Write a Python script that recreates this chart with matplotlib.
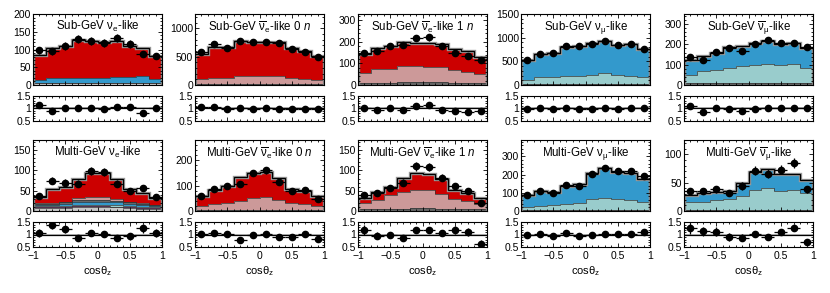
import numpy as np
import matplotlib
matplotlib.use("Agg")
import matplotlib.pyplot as plt
from matplotlib.ticker import AutoMinorLocator, MultipleLocator

plt.rcParams['font.family'] = ['Liberation Sans', 'DejaVu Sans']
plt.rcParams['mathtext.fontset'] = 'custom'
plt.rcParams['mathtext.rm'] = 'Liberation Sans'
plt.rcParams['mathtext.it'] = 'Liberation Sans:italic'
plt.rcParams['font.size'] = 7.5

edges = np.linspace(-1, 1, 11)
centers = 0.5 * (edges[:-1] + edges[1:])

RED = '#cc0000'
PINK = '#cc9999'
BLUE = '#3399cc'
TEAL = '#99cccc'
LGRAY = '#c8c8c8'
DGRAY = '#666666'
PURPLE = '#993399'

# ---- Sub-GeV nu_e-like
sg_nue_data = [98, 95, 110, 130, 125, 118, 133, 115, 87, 82]
sg_nue_mc = [85, 105, 110, 128, 123, 121, 125, 110, 105, 82]
sg_nue_gray = [5, 5, 5, 5, 5, 5, 5, 5, 5, 5]
sg_nue_teal = [2, 2, 2, 2, 2, 2, 2, 2, 2, 2]
sg_nue_blue = [6, 12, 13, 13, 13, 14, 16, 16, 17, 10]

# ---- Sub-GeV anti-nu_e-like 0n
sg_anue0_data = [576, 717, 647, 770, 753, 764, 735, 635, 588, 500]
sg_anue0_mc = [550, 670, 670, 770, 760, 750, 750, 650, 600, 510]
sg_anue0_gray = [15, 15, 15, 15, 15, 15, 15, 15, 15, 15]
sg_anue0_pink = [85, 115, 115, 135, 135, 135, 135, 105, 95, 75]

# ---- Sub-GeV anti-nu_e-like 1n
sg_anue1_data = [149, 158, 180, 188, 218, 221, 181, 151, 137, 115]
sg_anue1_mc = [146, 170, 180, 200, 196, 194, 190, 168, 160, 130]
sg_anue1_gray = [8, 10, 10, 14, 14, 13, 13, 11, 10, 8]
sg_anue1_pink = [50, 64, 64, 74, 74, 72, 72, 58, 52, 43]

# ---- Sub-GeV nu_mu-like
sg_numu_data = [521, 657, 671, 821, 814, 871, 929, 843, 864, 771]
sg_numu_mc = [530, 650, 680, 800, 820, 880, 920, 850, 860, 760]
sg_numu_gray = [30, 30, 30, 30, 30, 30, 30, 30, 30, 30]
sg_numu_teal = [77, 134, 140, 170, 170, 184, 213, 184, 163, 134]

# ---- Sub-GeV anti-nu_mu-like
sg_anumu_data = [138, 125, 163, 183, 170, 200, 220, 208, 208, 187]
sg_anumu_mc = [125, 145, 158, 185, 192, 205, 218, 202, 206, 182]
sg_anumu_gray = [8, 8, 8, 8, 8, 8, 8, 8, 8, 8]
sg_anumu_teal = [42, 62, 67, 75, 84, 89, 97, 89, 95, 75]

# ---- Multi-GeV nu_e-like
mg_nue_data = [37, 74, 70, 67, 98, 97, 67, 50, 56, 35]
mg_nue_mc = [35, 53, 58, 79, 93, 94, 79, 54, 45, 33]
mg_nue_lgray = [7, 7, 8, 10, 10, 10, 9, 8, 6, 5]
mg_nue_purple = [3, 3, 3, 2, 2, 2, 2, 2, 2, 2]
mg_nue_teal = [2, 2, 2, 3, 3, 3, 3, 2, 2, 2]
mg_nue_blue = [3, 4, 5, 8, 8, 8, 7, 6, 5, 3]
mg_nue_dgray = [2, 2, 3, 4, 5, 5, 4, 3, 3, 2]
mg_nue_pink = [2, 2, 2, 4, 7, 7, 5, 2, 1, 1]

# ---- Multi-GeV anti-nu_e-like 0n
mg_anue0_data = [61, 88, 100, 107, 151, 160, 116, 80, 81, 48]
mg_anue0_mc = [60, 83, 97, 135, 151, 155, 131, 88, 80, 58]
mg_anue0_gray = [4, 4, 4, 5, 5, 5, 5, 4, 4, 4]
mg_anue0_pink = [16, 24, 27, 36, 46, 50, 39, 29, 24, 16]

# ---- Multi-GeV anti-nu_e-like 1n
mg_anue1_data = [39, 45, 57, 70, 110, 109, 82, 61, 49, 20]
mg_anue1_mc = [33, 47, 58, 81, 94, 92, 78, 52, 45, 32]
mg_anue1_gray = [5, 5, 5, 6, 7, 7, 6, 5, 5, 4]
mg_anue1_pink = [15, 21, 34, 41, 45, 44, 37, 24, 20, 14]

# ---- Multi-GeV nu_mu-like
mg_numu_data = [88, 112, 98, 144, 140, 203, 236, 221, 217, 190]
mg_numu_mc = [90, 108, 105, 136, 150, 208, 235, 215, 210, 175]
mg_numu_gray = [3, 3, 3, 3, 3, 3, 3, 3, 3, 3]
mg_numu_teal = [21, 26, 30, 36, 43, 61, 67, 61, 58, 49]

# ---- Multi-GeV anti-nu_mu-like
mg_anumu_data = [35, 35, 38, 32, 44, 71, 66, 73, 84, 38]
mg_anumu_mc = [28, 31, 34, 36, 50, 69, 74, 66, 66, 55]
mg_anumu_gray = [1, 1, 1, 1, 1, 1, 1, 1, 1, 1]
mg_anumu_teal = [14, 15, 18, 21, 25, 36, 40, 35, 36, 30]

panels = [
    (r'Sub-GeV $\mathregular{\nu_e}$-like', sg_nue_data, sg_nue_mc,
     [(LGRAY, sg_nue_gray), (TEAL, sg_nue_teal), (BLUE, sg_nue_blue)], RED, 200, 50),
    (r'Sub-GeV $\mathregular{\overline{\nu}_e}$-like 0 $n$', sg_anue0_data, sg_anue0_mc,
     [(DGRAY, sg_anue0_gray), (PINK, sg_anue0_pink)], RED, 1250, 500),
    (r'Sub-GeV $\mathregular{\overline{\nu}_e}$-like 1 $n$', sg_anue1_data, sg_anue1_mc,
     [(DGRAY, sg_anue1_gray), (PINK, sg_anue1_pink)], RED, 330, 100),
    (r'Sub-GeV $\mathregular{\nu_\mu}$-like', sg_numu_data, sg_numu_mc,
     [(DGRAY, sg_numu_gray), (TEAL, sg_numu_teal)], BLUE, 1500, 500),
    (r'Sub-GeV $\mathregular{\overline{\nu}_\mu}$-like', sg_anumu_data, sg_anumu_mc,
     [(DGRAY, sg_anumu_gray), (TEAL, sg_anumu_teal)], BLUE, 350, 100),
    (r'Multi-GeV $\mathregular{\nu_e}$-like', mg_nue_data, mg_nue_mc,
     [(LGRAY, mg_nue_lgray), (PURPLE, mg_nue_purple), (TEAL, mg_nue_teal),
      (BLUE, mg_nue_blue), (DGRAY, mg_nue_dgray), (PINK, mg_nue_pink)], RED, 175, 50),
    (r'Multi-GeV $\mathregular{\overline{\nu}_e}$-like 0 $n$', mg_anue0_data, mg_anue0_mc,
     [(DGRAY, mg_anue0_gray), (PINK, mg_anue0_pink)], RED, 280, 100),
    (r'Multi-GeV $\mathregular{\overline{\nu}_e}$-like 1 $n$', mg_anue1_data, mg_anue1_mc,
     [(DGRAY, mg_anue1_gray), (PINK, mg_anue1_pink)], RED, 175, 50),
    (r'Multi-GeV $\mathregular{\nu_\mu}$-like', mg_numu_data, mg_numu_mc,
     [(DGRAY, mg_numu_gray), (TEAL, mg_numu_teal)], BLUE, 390, 100),
    (r'Multi-GeV $\mathregular{\overline{\nu}_\mu}$-like', mg_anumu_data, mg_anumu_mc,
     [(DGRAY, mg_anumu_gray), (TEAL, mg_anumu_teal)], BLUE, 125, 50),
]

W, H = 830, 293
fig = plt.figure(figsize=(W / 100, H / 100), dpi=100)
lefts = [33, 195, 358, 521, 684]
pw = 129
rows = [(14, 85, 96, 121), (140, 211, 222, 247)]


def style(ax):
    ax.tick_params(which='both', direction='in', top=True, right=True,
                   width=0.6, labelsize=7.5, pad=1.5)
    ax.tick_params(axis='x', pad=3)
    ax.tick_params(which='major', length=3)
    ax.tick_params(which='minor', length=1.5)
    for s in ax.spines.values():
        s.set_linewidth(0.8)
    ax.set_xlim(-1, 1)
    ax.xaxis.set_major_locator(MultipleLocator(0.5))
    ax.xaxis.set_minor_locator(MultipleLocator(0.1))


for i, (title, data, mc, layers, topcol, ymax, ymaj) in enumerate(panels):
    r, c = divmod(i, 5)
    t, b, rt, rb = rows[r]
    x0 = lefts[c] / W
    ax = fig.add_axes([x0, 1 - b / H, pw / W, (b - t) / H])
    axr = fig.add_axes([x0, 1 - rb / H, pw / W, (rb - rt) / H])

    data = np.array(data, float)
    mc = np.array(mc, float)
    base = np.zeros(10)
    for col, vals in layers:
        vals = np.array(vals, float)
        ax.stairs(base + vals, edges, baseline=base, fill=True, color=col, lw=0)
        base = base + vals
    ax.stairs(mc, edges, baseline=base, fill=True, color=topcol, lw=0)
    base = np.zeros(10)
    for col, vals in layers:
        base = base + np.array(vals, float)
        ax.stairs(base, edges, color='#333333', lw=0.5)
    ax.stairs(mc, edges, color='#999999', lw=2.4)
    ax.stairs(mc, edges, color='black', lw=0.9)
    ax.errorbar(centers, data, xerr=0.1, yerr=np.sqrt(data), fmt='o', color='black',
                ms=4.5, elinewidth=0.9, capsize=0)
    ax.set_ylim(0, ymax)
    ax.yaxis.set_major_locator(MultipleLocator(ymaj))
    ax.yaxis.set_minor_locator(AutoMinorLocator(5))
    style(ax)
    ax.set_xticklabels([])
    ax.text(0.5, 0.93, title, transform=ax.transAxes, ha='center', va='top', fontsize=8.3)

    ratio = data / mc
    axr.stairs(np.full(10, 1.04), edges, baseline=np.full(10, 0.96), fill=True,
               color='#bbbbbb', lw=0)
    axr.axhline(1, color='black', lw=0.9)
    axr.errorbar(centers, ratio, xerr=0.1, yerr=np.sqrt(data) / mc, fmt='o',
                 color='black', ms=4.5, elinewidth=0.9, capsize=0)
    axr.set_ylim(0.5, 1.5)
    axr.set_yticks([0.5, 1, 1.5])
    axr.set_yticklabels(['0.5', '1', '1.5'])
    axr.yaxis.set_minor_locator(MultipleLocator(0.1))
    style(axr)
    if r == 0:
        axr.set_xticklabels([])
    else:
        axr.set_xticks([-1, -0.5, 0, 0.5, 1])
        axr.set_xticklabels(['\u22121', '\u22120.5', '0', '0.5', '1'])
        axr.set_xlabel(r'cos$\mathregular{\theta_z}$', fontsize=8, labelpad=2)

fig.savefig('out.png', dpi=100)
